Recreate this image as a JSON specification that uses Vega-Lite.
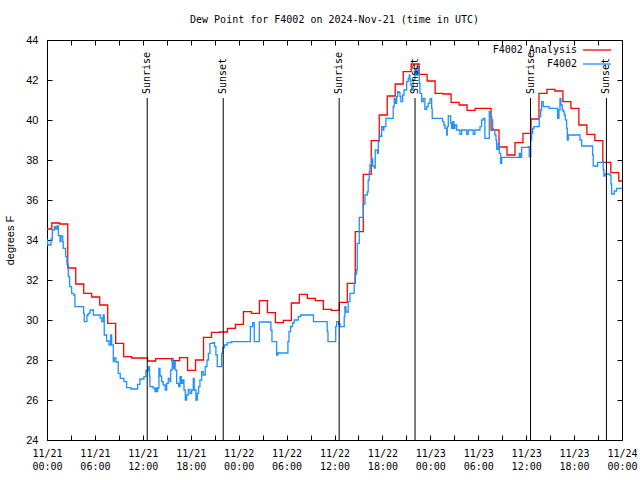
{
 "$schema": "https://vega.github.io/schema/vega-lite/v6.json",
 "width": 575, "height": 400,
 "autosize": {"type": "none"},
 "padding": {"left": 47, "top": 40, "right": 18, "bottom": 40},
 "background": "white",
 "title": {"text": "Dew Point for F4002 on 2024-Nov-21 (time in UTC)", "font": "DejaVu Sans Mono", "fontSize": 10, "fontWeight": "normal", "color": "black", "anchor": "middle", "offset": 9},
 "config": {"view": {"stroke": "black", "strokeWidth": 1}},
 "datasets": {
  "red": [
   {"t":"2024-11-21T00:00:00Z","v":34.55},{"t":"2024-11-21T00:36:00Z","v":34.85},{"t":"2024-11-21T01:36:00Z","v":34.8},{"t":"2024-11-21T02:36:00Z","v":32.6},{"t":"2024-11-21T03:36:00Z","v":31.8},{"t":"2024-11-21T04:36:00Z","v":31.33},{"t":"2024-11-21T05:36:00Z","v":31.15},{"t":"2024-11-21T06:36:00Z","v":30.75},{"t":"2024-11-21T07:36:00Z","v":29.83},{"t":"2024-11-21T08:36:00Z","v":28.83},{"t":"2024-11-21T09:36:00Z","v":28.17},{"t":"2024-11-21T10:36:00Z","v":28.1},{"t":"2024-11-21T11:36:00Z","v":28.1},{"t":"2024-11-21T12:36:00Z","v":27.95},{"t":"2024-11-21T13:36:00Z","v":28.07},{"t":"2024-11-21T14:36:00Z","v":28.07},{"t":"2024-11-21T15:36:00Z","v":27.97},{"t":"2024-11-21T16:36:00Z","v":28.12},{"t":"2024-11-21T17:36:00Z","v":27.48},{"t":"2024-11-21T18:36:00Z","v":28.0},{"t":"2024-11-21T19:36:00Z","v":29.13},{"t":"2024-11-21T20:36:00Z","v":29.38},{"t":"2024-11-21T21:36:00Z","v":29.4},{"t":"2024-11-21T22:36:00Z","v":29.58},{"t":"2024-11-21T23:36:00Z","v":29.78},
   {"t":"2024-11-22T00:36:00Z","v":30.42},{"t":"2024-11-22T01:36:00Z","v":30.33},{"t":"2024-11-22T02:36:00Z","v":30.97},{"t":"2024-11-22T03:36:00Z","v":30.37},{"t":"2024-11-22T04:36:00Z","v":29.87},{"t":"2024-11-22T05:36:00Z","v":29.98},{"t":"2024-11-22T06:36:00Z","v":30.85},{"t":"2024-11-22T07:36:00Z","v":31.28},{"t":"2024-11-22T08:36:00Z","v":31.08},{"t":"2024-11-22T09:36:00Z","v":30.97},{"t":"2024-11-22T10:36:00Z","v":30.53},{"t":"2024-11-22T11:36:00Z","v":30.48},{"t":"2024-11-22T12:36:00Z","v":30.88},{"t":"2024-11-22T13:36:00Z","v":31.83},{"t":"2024-11-22T14:36:00Z","v":34.42},{"t":"2024-11-22T15:36:00Z","v":37.28},{"t":"2024-11-22T16:36:00Z","v":38.97},{"t":"2024-11-22T17:36:00Z","v":40.25},{"t":"2024-11-22T18:36:00Z","v":41.2},{"t":"2024-11-22T19:36:00Z","v":41.8},{"t":"2024-11-22T20:36:00Z","v":42.42},{"t":"2024-11-22T21:36:00Z","v":42.8},{"t":"2024-11-22T22:36:00Z","v":42.28},{"t":"2024-11-22T23:36:00Z","v":41.95},
   {"t":"2024-11-23T00:36:00Z","v":41.33},{"t":"2024-11-23T01:36:00Z","v":41.3},{"t":"2024-11-23T02:36:00Z","v":40.88},{"t":"2024-11-23T03:36:00Z","v":40.75},{"t":"2024-11-23T04:36:00Z","v":40.48},{"t":"2024-11-23T05:36:00Z","v":40.58},{"t":"2024-11-23T06:36:00Z","v":40.58},{"t":"2024-11-23T07:36:00Z","v":39.5},{"t":"2024-11-23T08:36:00Z","v":38.65},{"t":"2024-11-23T09:36:00Z","v":38.25},{"t":"2024-11-23T10:36:00Z","v":38.87},{"t":"2024-11-23T11:36:00Z","v":39.33},{"t":"2024-11-23T12:36:00Z","v":40.05},{"t":"2024-11-23T13:36:00Z","v":41.33},{"t":"2024-11-23T14:36:00Z","v":41.53},{"t":"2024-11-23T15:36:00Z","v":41.45},{"t":"2024-11-23T16:36:00Z","v":40.92},{"t":"2024-11-23T17:36:00Z","v":40.58},{"t":"2024-11-23T18:36:00Z","v":39.75},{"t":"2024-11-23T19:36:00Z","v":39.28},{"t":"2024-11-23T20:36:00Z","v":38.97},{"t":"2024-11-23T21:36:00Z","v":37.88},{"t":"2024-11-23T22:36:00Z","v":37.37},{"t":"2024-11-23T23:36:00Z","v":36.95},{"t":"2024-11-24T00:00:00Z","v":36.95}
  ],
  "blue": [
   {"t":"2024-11-21T00:00:00Z","v":34.0},{"t":"2024-11-21T00:05:00Z","v":33.75},{"t":"2024-11-21T00:30:00Z","v":34.05},{"t":"2024-11-21T00:40:00Z","v":34.5},{"t":"2024-11-21T00:55:00Z","v":34.67},{"t":"2024-11-21T01:04:00Z","v":34.55},{"t":"2024-11-21T01:15:00Z","v":34.7},{"t":"2024-11-21T01:25:00Z","v":34.22},{"t":"2024-11-21T01:38:00Z","v":33.92},{"t":"2024-11-21T01:45:00Z","v":34.2},{"t":"2024-11-21T01:58:00Z","v":33.92},{"t":"2024-11-21T02:02:00Z","v":33.58},{"t":"2024-11-21T02:20:00Z","v":33.17},{"t":"2024-11-21T02:30:00Z","v":32.78},{"t":"2024-11-21T02:40:00Z","v":32.17},{"t":"2024-11-21T02:50:00Z","v":31.67},{"t":"2024-11-21T03:05:00Z","v":31.33},{"t":"2024-11-21T03:20:00Z","v":31.25},{"t":"2024-11-21T03:30:00Z","v":30.67},{"t":"2024-11-21T04:35:00Z","v":30.33},{"t":"2024-11-21T04:40:00Z","v":29.92},{"t":"2024-11-21T05:00:00Z","v":30.25},{"t":"2024-11-21T05:10:00Z","v":30.33},{"t":"2024-11-21T05:23:00Z","v":30.5},{"t":"2024-11-21T05:48:00Z","v":30.25},{"t":"2024-11-21T06:40:00Z","v":30.1},{"t":"2024-11-21T06:51:00Z","v":29.92},{"t":"2024-11-21T07:03:00Z","v":30.25},{"t":"2024-11-21T07:10:00Z","v":29.25},{"t":"2024-11-21T07:28:00Z","v":28.95},{"t":"2024-11-21T07:46:00Z","v":28.75},{"t":"2024-11-21T07:58:00Z","v":29.25},{"t":"2024-11-21T08:06:00Z","v":28.75},{"t":"2024-11-21T08:18:00Z","v":27.92},{"t":"2024-11-21T08:25:00Z","v":28.1},{"t":"2024-11-21T08:38:00Z","v":27.9},{"t":"2024-11-21T08:55:00Z","v":27.33},{"t":"2024-11-21T09:10:00Z","v":27.08},{"t":"2024-11-21T09:38:00Z","v":26.92},{"t":"2024-11-21T09:58:00Z","v":26.62},{"t":"2024-11-21T10:31:00Z","v":26.55},{"t":"2024-11-21T11:21:00Z","v":26.78},{"t":"2024-11-21T11:38:00Z","v":27.05},{"t":"2024-11-21T12:08:00Z","v":27.17},{"t":"2024-11-21T12:23:00Z","v":27.47},{"t":"2024-11-21T12:41:00Z","v":27.67},{"t":"2024-11-21T12:50:00Z","v":27.2},{"t":"2024-11-21T12:53:00Z","v":26.67},{"t":"2024-11-21T13:18:00Z","v":26.58},{"t":"2024-11-21T13:31:00Z","v":26.42},{"t":"2024-11-21T13:38:00Z","v":26.6},{"t":"2024-11-21T13:48:00Z","v":26.42},{"t":"2024-11-21T13:51:00Z","v":26.6},{"t":"2024-11-21T14:01:00Z","v":27.58},{"t":"2024-11-21T14:09:00Z","v":27.2},{"t":"2024-11-21T14:21:00Z","v":26.92},{"t":"2024-11-21T14:33:00Z","v":26.75},{"t":"2024-11-21T14:48:00Z","v":26.5},{"t":"2024-11-21T14:59:00Z","v":26.83},{"t":"2024-11-21T15:11:00Z","v":27.08},{"t":"2024-11-21T15:24:00Z","v":26.92},{"t":"2024-11-21T15:29:00Z","v":27.5},{"t":"2024-11-21T15:41:00Z","v":28.08},{"t":"2024-11-21T15:48:00Z","v":27.58},{"t":"2024-11-21T15:56:00Z","v":27.92},{"t":"2024-11-21T16:03:00Z","v":27.5},{"t":"2024-11-21T16:14:00Z","v":26.83},{"t":"2024-11-21T16:29:00Z","v":26.67},{"t":"2024-11-21T16:39:00Z","v":27.17},{"t":"2024-11-21T16:49:00Z","v":26.83},{"t":"2024-11-21T16:59:00Z","v":27.0},{"t":"2024-11-21T17:09:00Z","v":26.5},{"t":"2024-11-21T17:19:00Z","v":26.0},{"t":"2024-11-21T17:29:00Z","v":26.25},{"t":"2024-11-21T17:41:00Z","v":26.53},{"t":"2024-11-21T17:54:00Z","v":26.33},{"t":"2024-11-21T18:07:00Z","v":26.5},{"t":"2024-11-21T18:19:00Z","v":27.08},{"t":"2024-11-21T18:26:00Z","v":26.5},{"t":"2024-11-21T18:39:00Z","v":26.0},{"t":"2024-11-21T18:49:00Z","v":26.33},{"t":"2024-11-21T18:59:00Z","v":26.67},{"t":"2024-11-21T19:09:00Z","v":27.0},{"t":"2024-11-21T19:22:00Z","v":27.42},{"t":"2024-11-21T19:34:00Z","v":27.25},{"t":"2024-11-21T19:49:00Z","v":27.67},{"t":"2024-11-21T20:02:00Z","v":28.0},{"t":"2024-11-21T20:12:00Z","v":28.33},{"t":"2024-11-21T20:24:00Z","v":28.83},{"t":"2024-11-21T20:47:00Z","v":28.87},{"t":"2024-11-21T20:59:00Z","v":28.67},{"t":"2024-11-21T21:09:00Z","v":28.25},{"t":"2024-11-21T21:19:00Z","v":27.67},{"t":"2024-11-21T21:52:00Z","v":28.33},{"t":"2024-11-21T22:00:00Z","v":28.62},{"t":"2024-11-21T22:13:00Z","v":28.75},{"t":"2024-11-21T22:34:00Z","v":28.87},{"t":"2024-11-21T23:07:00Z","v":28.92},
   {"t":"2024-11-22T01:28:00Z","v":29.67},{"t":"2024-11-22T01:45:00Z","v":29.87},{"t":"2024-11-22T01:57:00Z","v":28.92},{"t":"2024-11-22T02:35:00Z","v":29.9},{"t":"2024-11-22T04:02:00Z","v":29.5},{"t":"2024-11-22T04:10:00Z","v":28.92},{"t":"2024-11-22T04:45:00Z","v":28.25},{"t":"2024-11-22T04:55:00Z","v":28.35},{"t":"2024-11-22T06:10:00Z","v":28.92},{"t":"2024-11-22T06:18:00Z","v":29.42},{"t":"2024-11-22T06:30:00Z","v":29.67},{"t":"2024-11-22T06:44:00Z","v":29.85},{"t":"2024-11-22T06:57:00Z","v":30.0},{"t":"2024-11-22T07:28:00Z","v":30.17},{"t":"2024-11-22T07:46:00Z","v":30.25},{"t":"2024-11-22T09:22:00Z","v":29.92},{"t":"2024-11-22T11:05:00Z","v":29.42},{"t":"2024-11-22T11:11:00Z","v":28.92},{"t":"2024-11-22T12:09:00Z","v":29.67},{"t":"2024-11-22T12:16:00Z","v":29.92},{"t":"2024-11-22T12:31:00Z","v":29.8},{"t":"2024-11-22T12:41:00Z","v":29.67},{"t":"2024-11-22T13:13:00Z","v":30.17},{"t":"2024-11-22T13:18:00Z","v":30.67},{"t":"2024-11-22T13:26:00Z","v":30.4},{"t":"2024-11-22T13:43:00Z","v":30.92},{"t":"2024-11-22T13:56:00Z","v":31.33},{"t":"2024-11-22T14:28:00Z","v":31.83},{"t":"2024-11-22T14:34:00Z","v":32.3},{"t":"2024-11-22T14:46:00Z","v":32.5},{"t":"2024-11-22T14:51:00Z","v":33.83},{"t":"2024-11-22T15:06:00Z","v":35.13},{"t":"2024-11-22T15:36:00Z","v":35.8},{"t":"2024-11-22T15:49:00Z","v":36.25},{"t":"2024-11-22T16:06:00Z","v":36.4},{"t":"2024-11-22T16:13:00Z","v":37.0},{"t":"2024-11-22T16:21:00Z","v":37.42},{"t":"2024-11-22T16:26:00Z","v":37.75},{"t":"2024-11-22T16:39:00Z","v":38.08},{"t":"2024-11-22T16:47:00Z","v":37.7},{"t":"2024-11-22T16:59:00Z","v":37.6},{"t":"2024-11-22T17:06:00Z","v":38.5},{"t":"2024-11-22T17:24:00Z","v":38.33},{"t":"2024-11-22T17:29:00Z","v":38.92},{"t":"2024-11-22T17:36:00Z","v":39.25},{"t":"2024-11-22T17:41:00Z","v":39.17},{"t":"2024-11-22T17:54:00Z","v":39.67},{"t":"2024-11-22T18:06:00Z","v":39.5},{"t":"2024-11-22T18:11:00Z","v":39.67},{"t":"2024-11-22T18:26:00Z","v":40.08},{"t":"2024-11-22T19:17:00Z","v":40.08},{"t":"2024-11-22T19:21:00Z","v":40.67},{"t":"2024-11-22T19:29:00Z","v":41.08},{"t":"2024-11-22T19:39:00Z","v":40.83},{"t":"2024-11-22T19:47:00Z","v":41.17},{"t":"2024-11-22T19:54:00Z","v":41.42},{"t":"2024-11-22T20:04:00Z","v":41.37},{"t":"2024-11-22T20:12:00Z","v":41.17},{"t":"2024-11-22T20:19:00Z","v":40.92},{"t":"2024-11-22T20:32:00Z","v":41.25},{"t":"2024-11-22T20:42:00Z","v":41.5},{"t":"2024-11-22T21:02:00Z","v":41.92},{"t":"2024-11-22T21:14:00Z","v":42.08},{"t":"2024-11-22T21:22:00Z","v":42.25},{"t":"2024-11-22T21:27:00Z","v":42.0},{"t":"2024-11-22T21:34:00Z","v":41.75},{"t":"2024-11-22T21:40:00Z","v":41.5},{"t":"2024-11-22T21:47:00Z","v":41.58},{"t":"2024-11-22T21:52:00Z","v":42.0},{"t":"2024-11-22T22:04:00Z","v":42.5},{"t":"2024-11-22T22:12:00Z","v":42.25},{"t":"2024-11-22T22:22:00Z","v":42.67},{"t":"2024-11-22T22:29:00Z","v":42.33},{"t":"2024-11-22T22:37:00Z","v":41.83},{"t":"2024-11-22T22:42:00Z","v":41.33},{"t":"2024-11-22T22:55:00Z","v":40.92},{"t":"2024-11-22T23:07:00Z","v":41.08},{"t":"2024-11-22T23:19:00Z","v":40.53},{"t":"2024-11-22T23:32:00Z","v":40.67},{"t":"2024-11-22T23:44:00Z","v":40.83},{"t":"2024-11-22T23:57:00Z","v":41.03},
   {"t":"2024-11-23T00:05:00Z","v":41.08},{"t":"2024-11-23T00:10:00Z","v":40.58},{"t":"2024-11-23T00:14:00Z","v":40.08},{"t":"2024-11-23T01:25:00Z","v":40.08},{"t":"2024-11-23T01:32:00Z","v":39.92},{"t":"2024-11-23T01:42:00Z","v":39.75},{"t":"2024-11-23T01:50:00Z","v":39.58},{"t":"2024-11-23T02:03:00Z","v":39.25},{"t":"2024-11-23T02:07:00Z","v":39.67},{"t":"2024-11-23T02:15:00Z","v":40.2},{"t":"2024-11-23T02:33:00Z","v":39.83},{"t":"2024-11-23T02:40:00Z","v":39.58},{"t":"2024-11-23T02:48:00Z","v":39.92},{"t":"2024-11-23T02:57:00Z","v":39.58},{"t":"2024-11-23T03:05:00Z","v":39.75},{"t":"2024-11-23T03:18:00Z","v":39.5},{"t":"2024-11-23T03:42:00Z","v":39.28},{"t":"2024-11-23T03:55:00Z","v":39.5},{"t":"2024-11-23T04:33:00Z","v":39.28},{"t":"2024-11-23T04:45:00Z","v":39.5},{"t":"2024-11-23T05:22:00Z","v":39.28},{"t":"2024-11-23T05:35:00Z","v":39.5},{"t":"2024-11-23T06:13:00Z","v":39.67},{"t":"2024-11-23T06:25:00Z","v":40.0},{"t":"2024-11-23T06:37:00Z","v":40.08},{"t":"2024-11-23T06:50:00Z","v":39.08},{"t":"2024-11-23T07:15:00Z","v":39.08},{"t":"2024-11-23T07:23:00Z","v":40.42},{"t":"2024-11-23T07:33:00Z","v":40.17},{"t":"2024-11-23T07:41:00Z","v":40.0},{"t":"2024-11-23T07:48:00Z","v":39.58},{"t":"2024-11-23T07:53:00Z","v":39.5},{"t":"2024-11-23T08:05:00Z","v":39.25},{"t":"2024-11-23T08:13:00Z","v":39.0},{"t":"2024-11-23T08:18:00Z","v":38.53},{"t":"2024-11-23T08:30:00Z","v":38.83},{"t":"2024-11-23T08:38:00Z","v":38.33},{"t":"2024-11-23T08:48:00Z","v":37.83},{"t":"2024-11-23T08:56:00Z","v":38.13},{"t":"2024-11-23T11:00:00Z","v":38.13},{"t":"2024-11-23T11:08:00Z","v":38.33},{"t":"2024-11-23T11:18:00Z","v":38.13},{"t":"2024-11-23T11:26:00Z","v":38.63},{"t":"2024-11-23T12:16:00Z","v":38.67},{"t":"2024-11-23T12:23:00Z","v":38.17},{"t":"2024-11-23T12:34:00Z","v":39.0},{"t":"2024-11-23T12:41:00Z","v":39.33},{"t":"2024-11-23T12:49:00Z","v":39.58},{"t":"2024-11-23T12:58:00Z","v":39.67},{"t":"2024-11-23T13:31:00Z","v":39.67},{"t":"2024-11-23T13:38:00Z","v":40.17},{"t":"2024-11-23T13:49:00Z","v":40.5},{"t":"2024-11-23T13:56:00Z","v":40.92},{"t":"2024-11-23T14:08:00Z","v":40.67},{"t":"2024-11-23T14:53:00Z","v":40.58},{"t":"2024-11-23T15:49:00Z","v":40.58},{"t":"2024-11-23T15:56:00Z","v":40.08},{"t":"2024-11-23T16:06:00Z","v":40.5},{"t":"2024-11-23T16:14:00Z","v":41.08},{"t":"2024-11-23T16:21:00Z","v":40.75},{"t":"2024-11-23T16:31:00Z","v":40.5},{"t":"2024-11-23T16:39:00Z","v":40.42},{"t":"2024-11-23T16:46:00Z","v":40.25},{"t":"2024-11-23T16:54:00Z","v":40.0},{"t":"2024-11-23T17:04:00Z","v":39.58},{"t":"2024-11-23T17:09:00Z","v":39.0},{"t":"2024-11-23T17:16:00Z","v":39.25},{"t":"2024-11-23T18:31:00Z","v":39.25},{"t":"2024-11-23T18:44:00Z","v":39.0},{"t":"2024-11-23T18:57:00Z","v":38.7},{"t":"2024-11-23T20:12:00Z","v":38.7},{"t":"2024-11-23T20:19:00Z","v":38.25},{"t":"2024-11-23T20:24:00Z","v":37.7},{"t":"2024-11-23T20:49:00Z","v":37.7},{"t":"2024-11-23T20:57:00Z","v":37.88},{"t":"2024-11-23T21:27:00Z","v":37.88},{"t":"2024-11-23T21:39:00Z","v":37.5},{"t":"2024-11-23T21:44:00Z","v":37.2},{"t":"2024-11-23T21:52:00Z","v":37.3},{"t":"2024-11-23T22:29:00Z","v":37.25},{"t":"2024-11-23T22:37:00Z","v":36.8},{"t":"2024-11-23T22:42:00Z","v":36.3},{"t":"2024-11-23T22:54:00Z","v":36.3},{"t":"2024-11-23T23:02:00Z","v":36.45},{"t":"2024-11-23T23:20:00Z","v":36.58},{"t":"2024-11-24T00:00:00Z","v":36.58}
  ],
  "events": [
   {"t":"2024-11-21T12:33:00Z","label":"Sunrise"},{"t":"2024-11-21T22:04:00Z","label":"Sunset"},
   {"t":"2024-11-22T12:35:00Z","label":"Sunrise"},{"t":"2024-11-22T22:05:00Z","label":"Sunset"},
   {"t":"2024-11-23T12:33:00Z","label":"Sunrise"},{"t":"2024-11-23T22:03:00Z","label":"Sunset"}
  ]
 },
 "layer": [
  {
   "data": {"name": "red"},
   "mark": {"type": "line", "interpolate": "step-after", "strokeWidth": 1.3, "clip": true},
   "encoding": {
    "x": {"field": "t", "type": "temporal",
     "scale": {"type": "utc", "domain": [1732147200000, 1732406400000]},
     "axis": {"orient": "bottom", "title": null, "grid": false, "domain": false, "values": [1732147200000, 1732158000000, 1732168800000, 1732179600000, 1732190400000, 1732201200000, 1732212000000, 1732222800000, 1732233600000, 1732244400000, 1732255200000, 1732266000000, 1732276800000, 1732287600000, 1732298400000, 1732309200000, 1732320000000, 1732330800000, 1732341600000, 1732352400000, 1732363200000, 1732374000000, 1732384800000, 1732395600000, 1732406400000], "tickSize": -5, "tickColor": "black",
      "labelExpr": "utchours(datum.value) % 6 == 0 ? [utcFormat(datum.value, '%m/%d'), utcFormat(datum.value, '%H:%M')] : ''",
      "labelFont": "DejaVu Sans Mono", "labelFontSize": 10, "labelColor": "black", "labelPadding": 13, "labelLineHeight": 13, "labelOverlap": false, "labelFlush": false, "labelBound": false, "labelBaseline": "top"}},
    "y": {"field": "v", "type": "quantitative",
     "scale": {"domain": [24, 44], "nice": false, "zero": false},
     "axis": {"orient": "left", "values": [24, 26, 28, 30, 32, 34, 36, 38, 40, 42, 44], "grid": false, "domain": false, "tickSize": -5, "tickColor": "black",
      "labelFont": "Liberation Sans", "labelFontSize": 11, "labelColor": "black", "labelPadding": 14,
      "title": "degrees F", "titleFont": "Liberation Sans", "titleFontSize": 11, "titleFontWeight": "normal", "titleColor": "black", "titleX": -37, "titleY": 200, "titleAngle": 270, "titleAlign": "center", "titleBaseline": "middle"}},
    "color": {"datum": "F4002 Analysis",
     "scale": {"domain": ["F4002 Analysis", "F4002"], "range": ["#ff0000", "#1e90ff"]},
     "legend": {"orient": "none", "legendX": 542, "legendY": 2, "title": null, "symbolType": "M-2,0H2", "symbolSize": 196, "symbolStrokeWidth": 1.3,
      "labelAlign": "right", "labelOffset": -28, "labelFont": "DejaVu Sans Mono", "labelFontSize": 10, "labelColor": "black", "padding": 0, "rowPadding": 1}}
   }
  },
  {
   "data": {"name": "blue"},
   "mark": {"type": "line", "interpolate": "step-after", "strokeWidth": 1.3, "clip": true},
   "encoding": {
    "x": {"field": "t", "type": "temporal",
     "axis": {"orient": "top", "title": null, "grid": false, "domain": false, "labels": false, "values": [1732147200000, 1732158000000, 1732168800000, 1732179600000, 1732190400000, 1732201200000, 1732212000000, 1732222800000, 1732233600000, 1732244400000, 1732255200000, 1732266000000, 1732276800000, 1732287600000, 1732298400000, 1732309200000, 1732320000000, 1732330800000, 1732341600000, 1732352400000, 1732363200000, 1732374000000, 1732384800000, 1732395600000, 1732406400000], "tickSize": -5, "tickColor": "black"}},
    "y": {"field": "v", "type": "quantitative",
     "axis": {"orient": "right", "title": null, "grid": false, "domain": false, "labels": false, "values": [24, 26, 28, 30, 32, 34, 36, 38, 40, 42, 44], "tickSize": -5, "tickColor": "black"}},
    "color": {"datum": "F4002"}
   }
  },
  {
   "data": {"name": "events"},
   "mark": {"type": "rule", "color": "black", "strokeWidth": 1},
   "encoding": {
    "x": {"field": "t", "type": "temporal", "axis": null},
    "y": {"datum": 41.1, "type": "quantitative", "axis": null},
    "y2": {"datum": 24}
   }
  },
  {
   "data": {"name": "events"},
   "mark": {"type": "text", "angle": 270, "align": "left", "baseline": "middle", "font": "DejaVu Sans Mono", "fontSize": 10, "color": "black"},
   "encoding": {
    "x": {"field": "t", "type": "temporal", "axis": null},
    "y": {"datum": 41.3, "type": "quantitative", "axis": null},
    "text": {"field": "label"}
   }
  }
 ],
 "resolve": {"axis": {"x": "independent", "y": "independent"}}
}
